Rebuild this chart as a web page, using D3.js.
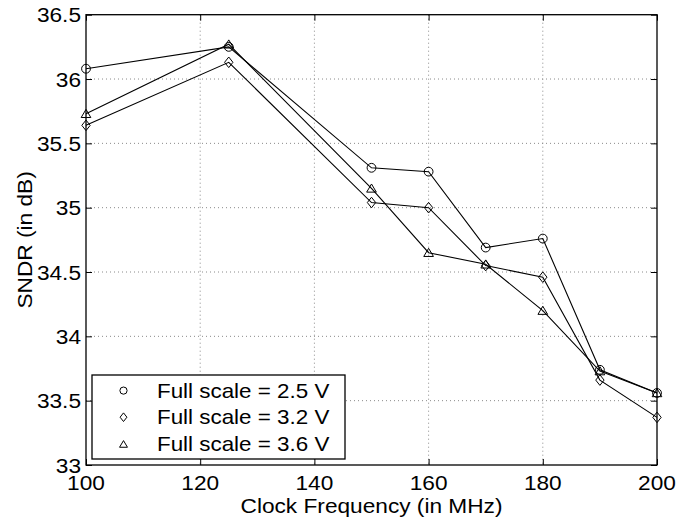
<!DOCTYPE html>
<html>
<head>
<meta charset="utf-8">
<script src="https://cdn.jsdelivr.net/npm/d3@7"></script>
<style>
  html, body { margin: 0; padding: 0; background: #fff; }
  svg { display: block; font-family: "Liberation Sans", Arial, Helvetica, sans-serif; }
</style>
</head>
<body>
<svg id="chart" width="678" height="521"></svg>
<script>
// Clock frequencies (MHz) at which SNDR was measured
const freqs = [100, 125, 150, 160, 170, 180, 190, 200];

// SNDR (dB) for each full-scale setting
const sndr25 = [36.08, 36.25, 35.31, 35.28, 34.69, 34.76, 33.74, 33.56];
const sndr32 = [35.64, 36.13, 35.04, 35.00, 34.55, 34.46, 33.66, 33.37];
const sndr36 = [35.73, 36.27, 35.15, 34.65, 34.56, 34.20, 33.73, 33.56];

const seriesNames = ["Full scale = 2.5 V", "Full scale = 3.2 V", "Full scale = 3.6 V"];
const seriesMarkers = ["circle", "diamond", "triangle"];

const xTicks = [100, 120, 140, 160, 180, 200];
const yTicks = [33, 33.5, 34, 34.5, 35, 35.5, 36, 36.5];

const series = [sndr25, sndr32, sndr36].map((vals, i) => ({
  name: seriesNames[i],
  marker: seriesMarkers[i],
  points: freqs.map((f, j) => ({ x: f, y: vals[j] }))
}));

const svg = d3.select("#chart");
const plotLeft = 86, plotRight = 657, plotTop = 14.7, plotBottom = 465;

const x = d3.scaleLinear().domain([100, 200]).range([plotLeft, plotRight]);
const y = d3.scaleLinear().domain([33, 36.5]).range([plotBottom, plotTop]);

const fontSize = 21;
const stretch = 1.08;   // slightly wide Helvetica-style lettering

// text helper: a label anchored at (px, py), widened horizontally
function label(parent, px, py, str, opts = {}) {
  const g = parent.append("g")
    .attr("transform", `translate(${px},${py})${opts.rotate ? " rotate(-90)" : ""} scale(${opts.stretch || stretch},1)`);
  return g.append("text")
    .attr("text-anchor", opts.anchor || "middle")
    .attr("dy", opts.dy || 0)
    .attr("font-size", opts.size || fontSize)
    .attr("fill", "#000")
    .text(str);
}

// dotted grid
const grid = svg.append("g");
grid.selectAll("line.gx").data(xTicks.slice(1, -1)).join("line")
  .attr("x1", d => x(d)).attr("x2", d => x(d))
  .attr("y1", plotTop).attr("y2", plotBottom)
  .attr("stroke", "#8a8a8a").attr("stroke-width", 1)
  .attr("stroke-dasharray", "1,3");
grid.selectAll("line.gy").data(yTicks.slice(1, -1)).join("line")
  .attr("y1", d => y(d)).attr("y2", d => y(d))
  .attr("x1", plotLeft).attr("x2", plotRight)
  .attr("stroke", "#8a8a8a").attr("stroke-width", 1)
  .attr("stroke-dasharray", "1,3");

// axes: inward ticks on all four sides, labels drawn separately
const tickLen = 6;
const axBottom = d3.axisBottom(x).tickValues(xTicks).tickSizeInner(-tickLen).tickSizeOuter(0).tickFormat("");
const axTop = d3.axisTop(x).tickValues(xTicks).tickSizeInner(-tickLen).tickSizeOuter(0).tickFormat("");
const axLeft = d3.axisLeft(y).tickValues(yTicks).tickSizeInner(-tickLen).tickSizeOuter(0).tickFormat("");
const axRight = d3.axisRight(y).tickValues(yTicks).tickSizeInner(-tickLen).tickSizeOuter(0).tickFormat("");

function styleAxis(g) {
  g.select(".domain").remove();
  g.selectAll(".tick line").attr("stroke", "#000").attr("stroke-width", 1);
}
svg.append("g").attr("transform", `translate(0,${plotBottom})`).call(axBottom).call(styleAxis);
svg.append("g").attr("transform", `translate(0,${plotTop})`).call(axTop).call(styleAxis);
svg.append("g").attr("transform", `translate(${plotLeft},0)`).call(axLeft).call(styleAxis);
svg.append("g").attr("transform", `translate(${plotRight},0)`).call(axRight).call(styleAxis);

// tick labels
const tickLabels = svg.append("g");
xTicks.forEach(t => label(tickLabels, x(t), 489.5, String(t)));
yTicks.forEach(t => label(tickLabels, plotLeft - 5, y(t), String(t), { anchor: "end", dy: "0.36em" }));

// plot box
svg.append("rect")
  .attr("x", plotLeft).attr("y", plotTop)
  .attr("width", plotRight - plotLeft).attr("height", plotBottom - plotTop)
  .attr("fill", "none").attr("stroke", "#000").attr("stroke-width", 1.3);

// marker shapes
function markerPath(type, s) {
  if (type === "circle") {
    return d3.symbol(d3.symbolCircle, Math.PI * s * s)();
  }
  if (type === "diamond") {
    const w = s * 0.95, h = s * 1.2;
    return `M0,${-h}L${w},0L0,${h}L${-w},0Z`;
  }
  // triangle pointing up
  const w = s * 1.1, h = s * 1.0;
  return `M0,${-h}L${w},${h * 0.85}L${-w},${h * 0.85}Z`;
}

// series lines and markers
const line = d3.line().x(d => x(d.x)).y(d => y(d.y));
series.forEach(s => {
  svg.append("path").datum(s.points)
    .attr("d", line)
    .attr("fill", "none").attr("stroke", "#000").attr("stroke-width", 1.1);
  svg.append("g").selectAll("path").data(s.points).join("path")
    .attr("transform", d => `translate(${x(d.x)},${y(d.y)})`)
    .attr("d", markerPath(s.marker, 4.4))
    .attr("fill", "none").attr("stroke", "#000").attr("stroke-width", 1);
});

// axis titles
label(svg, (plotLeft + plotRight) / 2, 513, "Clock Frequency (in MHz)");
label(svg, 32, (plotTop + plotBottom) / 2, "SNDR (in dB)", { rotate: true });

// legend
const lg = svg.append("g");
lg.append("rect")
  .attr("x", 92).attr("y", 375).attr("width", 253).attr("height", 84)
  .attr("fill", "#fff").attr("stroke", "#000").attr("stroke-width", 1.3);
const rowY = [390.6, 417.2, 444.2];
series.forEach((s, i) => {
  lg.append("path")
    .attr("transform", `translate(123.5,${rowY[i]})`)
    .attr("d", markerPath(s.marker, 3.6))
    .attr("fill", "none").attr("stroke", "#000").attr("stroke-width", 1);
  label(lg, 157, rowY[i], s.name, { anchor: "start", dy: "0.36em", size: 20, stretch: 1.12 });
});
</script>
</body>
</html>
